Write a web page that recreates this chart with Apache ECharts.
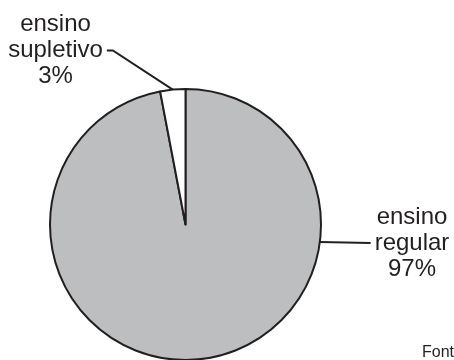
<!DOCTYPE html>
<html>
<head>
<meta charset="utf-8">
<script src="https://cdn.jsdelivr.net/npm/echarts@6/dist/echarts.min.js"></script>
<style>html,body{margin:0;padding:0;background:#fff;}#c{width:454px;height:360px;}</style>
</head>
<body>
<div id="c"></div>
<script>
var categories = ['ensino\nregular', 'ensino\nsupletivo'];
var values = [97, 3];
var colors = ['#bcbec0', '#ffffff'];
var sourceText = 'Fonte';

var CX = 185.5, CY = 224.5, R = 135.5;
var INK = '#231f20';
var FONT = "'Liberation Sans', Arial, Helvetica, sans-serif";

var chart = echarts.init(document.getElementById('c'), null, {renderer: 'canvas'});

function edgePoint(deg) {
  var a = deg * Math.PI / 180;
  return [CX + R * Math.cos(a), CY - R * Math.sin(a)];
}

chart.setOption({
  animation: false,
  title: {
    text: sourceText, left: 422, top: 345, padding: 0,
    textStyle: {fontFamily: FONT, fontSize: 16, fontWeight: 'normal', color: INK}
  },
  series: [{
    type: 'pie',
    center: [CX, CY],
    radius: [0, R],
    startAngle: 90,
    clockwise: true,
    avoidLabelOverlap: false,
    data: categories.map(function (c, i) {
      return {name: c, value: values[i], itemStyle: {color: colors[i]}};
    }),
    itemStyle: {borderColor: INK, borderWidth: 2},
    label: {
      show: true,
      position: 'outside',
      formatter: function (p) { return p.name + '\n' + p.value + '%'; },
      fontFamily: FONT,
      fontSize: 24,
      lineHeight: 26,
      color: INK,
      align: 'center'
    },
    labelLine: {show: true, lineStyle: {color: INK, width: 2}, length: 10, length2: 10},
    labelLayout: function (p) {
      var w = p.labelRect.width;
      if (p.dataIndex === 0) {
        var lx = 412, ly = 243;
        var e = edgePoint(-7.4);
        var end = [lx - w / 2 - 4, ly];
        return {x: lx, y: ly, align: 'center', verticalAlign: 'middle',
          labelLinePoints: [e, end, end]};
      } else {
        var lx2 = 55.5, ly2 = 50.5;
        var mid = 90 + values[1] / 100 * 180;
        var e2 = edgePoint(mid);
        var right = lx2 + w / 2;
        return {x: lx2, y: ly2, align: 'center', verticalAlign: 'middle',
          labelLinePoints: [e2, [right + 10, ly2], [right + 4, ly2]]};
      }
    }
  }]
});
</script>
</body>
</html>
